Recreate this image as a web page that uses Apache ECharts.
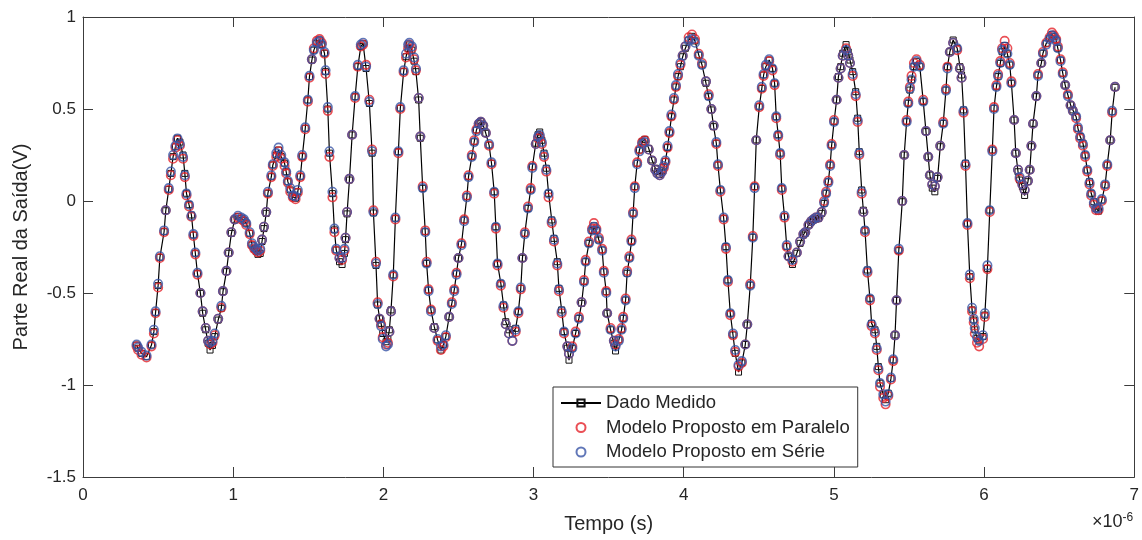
<!DOCTYPE html>
<html>
<head>
<meta charset="utf-8">
<script src="https://cdn.jsdelivr.net/npm/echarts@6/dist/echarts.min.js"></script>
<style>
html,body{margin:0;padding:0;background:#fff;}
#chart{width:1142px;height:540px;}
</style>
</head>
<body>
<div id="chart"></div>
<script>
// Tempo (unidades de 1e-6 s)
const tempo = [
0.357,0.367,0.39,0.423,0.456,0.472,0.483,0.5,0.512,0.54,
0.551,0.571,0.585,0.6,0.616,0.629,0.645,0.666,0.678,0.689,
0.706,0.722,0.735,0.748,0.762,0.782,0.797,0.817,0.833,0.846,
0.862,0.877,0.9,0.921,0.932,0.955,0.97,0.988,1.01,1.032,
1.054,1.072,1.087,1.11,1.125,1.14,1.154,1.165,1.18,1.192,
1.205,1.22,1.231,1.254,1.264,1.287,1.302,1.32,1.342,1.353,
1.364,1.38,1.397,1.415,1.43,1.447,1.46,1.48,1.497,1.508,
1.524,1.537,1.557,1.575,1.59,1.608,1.615,1.63,1.641,1.661,
1.674,1.686,1.708,1.725,1.741,1.748,1.758,1.774,1.792,1.812,
1.83,1.85,1.865,1.885,1.907,1.925,1.934,1.951,1.962,1.975,
1.985,1.996,2.018,2.03,2.04,2.051,2.066,2.08,2.1,2.113,
2.135,2.151,2.165,2.173,2.19,2.205,2.217,2.235,2.246,2.262,
2.279,2.288,2.301,2.317,2.339,2.361,2.383,2.4,2.416,2.438,
2.456,2.472,2.487,2.5,2.52,2.538,2.556,2.567,2.589,2.605,
2.62,2.635,2.649,2.665,2.682,2.704,2.72,2.738,2.749,2.76,
2.782,2.8,2.815,2.837,2.859,2.881,2.899,2.915,2.926,2.942,
2.963,2.981,2.992,3.015,3.03,3.041,3.055,3.07,3.085,3.1,
3.121,3.136,3.158,3.169,3.187,3.203,3.225,3.236,3.258,3.28,
3.302,3.32,3.336,3.347,3.369,3.39,3.402,3.418,3.435,3.457,
3.468,3.484,3.49,3.513,3.535,3.546,3.568,3.586,3.597,3.613,
3.623,3.638,3.652,3.663,3.674,3.69,3.705,3.723,3.741,3.767,
3.789,3.811,3.825,3.84,3.855,3.867,3.878,3.892,3.905,3.918,
3.935,3.948,3.962,3.978,3.993,4.011,4.033,4.055,4.075,4.1,
4.122,4.148,4.166,4.184,4.199,4.217,4.228,4.244,4.266,4.281,
4.294,4.31,4.328,4.343,4.365,4.387,4.41,4.423,4.443,4.46,
4.472,4.483,4.503,4.52,4.532,4.547,4.569,4.591,4.605,4.616,
4.629,4.642,4.653,4.671,4.686,4.698,4.724,4.753,4.775,4.797,
4.809,4.831,4.848,4.864,4.88,4.897,4.919,4.935,4.948,4.963,
4.975,4.985,5.001,5.018,5.03,5.045,5.059,5.081,5.095,5.107,
5.125,5.145,5.158,5.169,5.185,5.196,5.207,5.223,5.24,5.251,
5.273,5.285,5.296,5.307,5.329,5.344,5.362,5.38,5.395,5.407,
5.417,5.432,5.455,5.468,5.484,5.495,5.506,5.517,5.533,5.55,
5.572,5.595,5.613,5.628,5.639,5.655,5.672,5.69,5.708,5.728,
5.746,5.756,5.772,5.794,5.821,5.839,5.85,5.863,5.876,5.889,
5.905,5.92,5.931,5.938,5.953,5.967,5.993,6.005,6.022,6.038,
6.055,6.066,6.082,6.093,6.108,6.12,6.137,6.155,6.171,6.182,
6.2,6.211,6.226,6.237,6.255,6.27,6.292,6.304,6.315,6.326,
6.348,6.359,6.381,6.392,6.414,6.436,6.452,6.465,6.48,6.491,
6.509,6.524,6.54,6.558,6.576,6.591,6.613,6.625,6.64,6.658,
6.673,6.687,6.702,6.713,6.731,6.746,6.762,6.784,6.806,6.82,
6.84,6.853,6.872
];

// Dado Medido
const medido = [
-0.783,-0.8,-0.828,-0.846,-0.783,-0.71,-0.607,-0.46,-0.306,-0.167,
-0.053,0.063,0.15,0.241,0.295,0.341,0.32,0.25,0.15,0.042,
-0.02,-0.076,-0.185,-0.284,-0.393,-0.502,-0.61,-0.7,-0.773,-0.81,
-0.785,-0.737,-0.647,-0.583,-0.493,-0.384,-0.284,-0.176,-0.103,-0.085,
-0.094,-0.105,-0.121,-0.176,-0.239,-0.26,-0.275,-0.29,-0.285,-0.22,
-0.15,-0.067,0.042,0.132,0.196,0.25,0.277,0.241,0.205,0.159,
0.105,0.06,0.023,0.015,0.05,0.132,0.241,0.395,0.549,0.676,
0.766,0.82,0.857,0.875,0.85,0.803,0.703,0.5,0.26,0.04,
-0.157,-0.266,-0.33,-0.345,-0.285,-0.21,-0.07,0.114,0.359,0.567,
0.73,0.84,0.855,0.72,0.53,0.26,-0.065,-0.35,-0.565,-0.64,
-0.665,-0.72,-0.765,-0.75,-0.7,-0.592,-0.402,-0.094,0.268,0.504,
0.703,0.784,0.83,0.848,0.82,0.76,0.703,0.549,0.341,0.069,
-0.167,-0.339,-0.484,-0.592,-0.683,-0.755,-0.81,-0.78,-0.737,-0.629,
-0.556,-0.484,-0.393,-0.311,-0.235,-0.103,0.023,0.132,0.241,0.322,
0.386,0.42,0.431,0.41,0.368,0.304,0.205,0.05,-0.14,-0.339,
-0.447,-0.565,-0.656,-0.7,-0.72,-0.692,-0.6,-0.475,-0.311,-0.176,
-0.04,0.06,0.186,0.314,0.36,0.375,0.33,0.26,0.178,0.042,
-0.103,-0.203,-0.33,-0.475,-0.592,-0.71,-0.8,-0.865,-0.8,-0.72,
-0.638,-0.556,-0.438,-0.33,-0.23,-0.16,-0.135,-0.16,-0.212,-0.266,
-0.384,-0.493,-0.61,-0.7,-0.773,-0.815,-0.755,-0.7,-0.638,-0.538,
-0.393,-0.31,-0.221,-0.067,0.078,0.205,0.277,0.322,0.335,0.286,
0.223,0.178,0.16,0.145,0.165,0.185,0.215,0.29,0.37,0.458,
0.549,0.62,0.676,0.73,0.784,0.83,0.875,0.895,0.87,0.793,
0.739,0.64,0.567,0.495,0.404,0.314,0.196,0.06,-0.094,-0.248,
-0.429,-0.61,-0.728,-0.828,-0.93,-0.88,-0.78,-0.674,-0.457,-0.197,
0.078,0.332,0.512,0.612,0.685,0.73,0.766,0.721,0.64,0.458,
0.36,0.26,0.069,-0.085,-0.248,-0.303,-0.345,-0.284,-0.23,-0.185,
-0.176,-0.13,-0.115,-0.103,-0.098,-0.094,-0.067,-0.013,0.042,0.105,
0.196,0.304,0.431,0.549,0.676,0.73,0.803,0.85,0.81,0.766,
0.703,0.594,0.45,0.268,0.06,-0.05,-0.158,-0.375,-0.529,-0.665,
-0.7,-0.79,-0.9,-0.99,-1.054,-1.08,-1.045,-0.964,-0.864,-0.728,
-0.54,-0.27,-0.004,0.25,0.431,0.531,0.603,0.658,0.73,0.757,
0.73,0.54,0.377,0.24,0.141,0.07,0.05,0.123,0.295,0.422,
0.603,0.73,0.811,0.875,0.83,0.73,0.685,0.495,0.205,-0.121,
-0.411,-0.592,-0.647,-0.7,-0.746,-0.76,-0.737,-0.62,-0.366,-0.049,
0.277,0.504,0.621,0.676,0.748,0.811,0.845,0.8,0.739,0.64,
0.44,0.26,0.159,0.114,0.078,0.03,0.105,0.168,0.295,0.422,
0.567,0.685,0.748,0.803,0.857,0.884,0.905,0.895,0.875,0.83,
0.766,0.694,0.63,0.576,0.522,0.495,0.458,0.395,0.35,0.314,
0.25,0.168,0.105,0.042,-0.004,-0.04,-0.055,0.005,0.087,0.196,
0.332,0.485,0.618
];

// Modelo Proposto em Paralelo
const paralelo = [
-0.79,-0.81,-0.835,-0.85,-0.79,-0.72,-0.61,-0.47,-0.31,-0.17,
-0.05,0.06,0.14,0.23,0.29,0.33,0.3,0.23,0.13,0.03,
-0.03,-0.085,-0.19,-0.29,-0.4,-0.5,-0.6,-0.69,-0.76,-0.78,
-0.77,-0.73,-0.64,-0.58,-0.49,-0.38,-0.28,-0.17,-0.1,-0.09,
-0.1,-0.11,-0.13,-0.18,-0.24,-0.26,-0.27,-0.28,-0.27,-0.21,
-0.14,-0.06,0.04,0.13,0.19,0.24,0.27,0.23,0.19,0.15,
0.1,0.05,0.02,0.01,0.045,0.13,0.24,0.39,0.54,0.67,
0.77,0.83,0.87,0.88,0.86,0.8,0.69,0.49,0.24,0.02,
-0.17,-0.27,-0.31,-0.32,-0.27,-0.2,-0.06,0.12,0.36,0.56,
0.73,0.84,0.85,0.74,0.55,0.28,-0.05,-0.33,-0.55,-0.64,
-0.67,-0.74,-0.78,-0.77,-0.71,-0.6,-0.41,-0.1,0.26,0.5,
0.7,0.78,0.83,0.85,0.83,0.77,0.71,0.56,0.35,0.08,
-0.16,-0.33,-0.48,-0.59,-0.69,-0.76,-0.81,-0.79,-0.74,-0.63,
-0.55,-0.48,-0.39,-0.31,-0.23,-0.1,0.03,0.14,0.25,0.33,
0.39,0.42,0.43,0.41,0.37,0.3,0.2,0.04,-0.15,-0.35,
-0.46,-0.58,-0.67,-0.72,-0.76,-0.71,-0.61,-0.48,-0.31,-0.17,
-0.03,0.07,0.19,0.31,0.34,0.35,0.31,0.24,0.16,0.02,
-0.12,-0.22,-0.35,-0.49,-0.61,-0.72,-0.79,-0.83,-0.79,-0.71,
-0.63,-0.55,-0.43,-0.32,-0.22,-0.15,-0.12,-0.15,-0.2,-0.26,
-0.38,-0.49,-0.61,-0.69,-0.76,-0.78,-0.75,-0.69,-0.63,-0.53,
-0.38,-0.3,-0.21,-0.06,0.08,0.21,0.28,0.32,0.33,0.28,
0.22,0.17,0.15,0.14,0.16,0.18,0.21,0.29,0.37,0.46,
0.55,0.62,0.68,0.74,0.79,0.84,0.89,0.905,0.88,0.8,
0.75,0.65,0.58,0.5,0.41,0.31,0.19,0.05,-0.1,-0.26,
-0.44,-0.62,-0.73,-0.82,-0.9,-0.88,-0.78,-0.67,-0.45,-0.19,
0.08,0.33,0.51,0.61,0.68,0.73,0.76,0.71,0.63,0.45,
0.35,0.25,0.06,-0.09,-0.25,-0.3,-0.33,-0.28,-0.22,-0.18,
-0.17,-0.13,-0.11,-0.1,-0.09,-0.09,-0.06,0.0,0.05,0.11,
0.2,0.31,0.44,0.55,0.67,0.72,0.79,0.83,0.79,0.75,
0.68,0.57,0.43,0.25,0.04,-0.06,-0.17,-0.39,-0.54,-0.68,
-0.72,-0.81,-0.92,-1.01,-1.07,-1.105,-1.06,-0.97,-0.87,-0.73,
-0.54,-0.27,0.0,0.25,0.44,0.54,0.62,0.68,0.75,0.77,
0.74,0.55,0.38,0.24,0.14,0.09,0.08,0.13,0.3,0.43,
0.61,0.73,0.81,0.86,0.82,0.72,0.67,0.48,0.19,-0.13,
-0.42,-0.6,-0.66,-0.72,-0.77,-0.79,-0.75,-0.63,-0.37,-0.06,
0.28,0.51,0.63,0.69,0.76,0.83,0.87,0.83,0.75,0.65,
0.44,0.26,0.17,0.12,0.09,0.06,0.11,0.17,0.3,0.42,
0.57,0.69,0.75,0.81,0.86,0.89,0.915,0.9,0.88,0.84,
0.77,0.7,0.63,0.58,0.52,0.49,0.45,0.39,0.34,0.3,
0.24,0.16,0.09,0.03,-0.02,-0.05,-0.05,0.0,0.08,0.19,
0.33,0.48,0.62
];

// Modelo Proposto em Série
const serie = [
-0.78,-0.795,-0.82,-0.84,-0.78,-0.7,-0.6,-0.45,-0.3,-0.16,
-0.05,0.07,0.16,0.25,0.3,0.34,0.31,0.24,0.14,0.04,
-0.02,-0.08,-0.18,-0.28,-0.39,-0.5,-0.6,-0.69,-0.76,-0.77,
-0.76,-0.72,-0.64,-0.57,-0.49,-0.38,-0.28,-0.17,-0.1,-0.08,
-0.09,-0.1,-0.12,-0.17,-0.23,-0.25,-0.26,-0.27,-0.26,-0.21,
-0.14,-0.06,0.05,0.14,0.2,0.26,0.29,0.25,0.21,0.16,
0.11,0.07,0.03,0.025,0.06,0.14,0.25,0.4,0.55,0.68,
0.77,0.82,0.86,0.87,0.85,0.81,0.71,0.51,0.27,0.05,
-0.15,-0.26,-0.31,-0.31,-0.26,-0.2,-0.06,0.12,0.36,0.57,
0.74,0.85,0.86,0.73,0.54,0.27,-0.06,-0.34,-0.56,-0.64,
-0.68,-0.75,-0.79,-0.78,-0.71,-0.6,-0.4,-0.09,0.27,0.51,
0.71,0.8,0.85,0.86,0.84,0.78,0.72,0.56,0.35,0.07,
-0.17,-0.34,-0.49,-0.6,-0.69,-0.75,-0.79,-0.78,-0.73,-0.63,
-0.56,-0.49,-0.4,-0.31,-0.24,-0.11,0.02,0.13,0.24,0.32,
0.38,0.42,0.43,0.41,0.37,0.31,0.21,0.05,-0.14,-0.34,
-0.45,-0.57,-0.67,-0.72,-0.76,-0.7,-0.6,-0.47,-0.31,-0.18,
-0.04,0.06,0.18,0.31,0.35,0.36,0.32,0.25,0.17,0.04,
-0.11,-0.21,-0.34,-0.48,-0.6,-0.71,-0.79,-0.83,-0.8,-0.72,
-0.64,-0.55,-0.44,-0.33,-0.23,-0.16,-0.14,-0.16,-0.21,-0.27,
-0.39,-0.5,-0.61,-0.7,-0.76,-0.79,-0.76,-0.7,-0.64,-0.54,
-0.39,-0.31,-0.22,-0.07,0.07,0.2,0.27,0.31,0.32,0.28,
0.22,0.17,0.15,0.14,0.16,0.19,0.22,0.3,0.38,0.47,
0.56,0.63,0.69,0.75,0.79,0.84,0.87,0.88,0.86,0.79,
0.74,0.65,0.57,0.5,0.41,0.32,0.2,0.06,-0.09,-0.25,
-0.43,-0.61,-0.72,-0.81,-0.89,-0.87,-0.78,-0.67,-0.46,-0.2,
0.07,0.33,0.52,0.62,0.69,0.74,0.77,0.72,0.64,0.46,
0.36,0.26,0.07,-0.08,-0.24,-0.3,-0.32,-0.28,-0.22,-0.18,
-0.17,-0.13,-0.11,-0.1,-0.09,-0.09,-0.06,-0.01,0.04,0.1,
0.19,0.3,0.43,0.55,0.67,0.72,0.79,0.82,0.79,0.75,
0.69,0.58,0.44,0.26,0.05,-0.06,-0.16,-0.38,-0.53,-0.67,
-0.71,-0.8,-0.91,-0.99,-1.05,-1.09,-1.05,-0.96,-0.86,-0.73,
-0.54,-0.26,0.0,0.25,0.43,0.53,0.61,0.66,0.73,0.76,
0.73,0.54,0.38,0.24,0.14,0.09,0.08,0.13,0.3,0.42,
0.6,0.72,0.81,0.86,0.83,0.72,0.67,0.49,0.2,-0.12,
-0.4,-0.58,-0.64,-0.69,-0.74,-0.76,-0.73,-0.61,-0.35,-0.05,
0.27,0.5,0.62,0.68,0.75,0.82,0.84,0.8,0.74,0.64,
0.44,0.26,0.17,0.13,0.09,0.06,0.11,0.17,0.3,0.42,
0.57,0.68,0.75,0.8,0.85,0.88,0.9,0.89,0.87,0.83,
0.76,0.69,0.63,0.57,0.52,0.49,0.46,0.4,0.35,0.31,
0.25,0.17,0.1,0.04,-0.01,-0.04,-0.04,0.01,0.09,0.2,
0.33,0.49,0.62
];

const nomesSeries = ['Dado Medido', 'Modelo Proposto em Paralelo', 'Modelo Proposto em Série'];
const eixoX = { min: 0, max: 7, passo: 1, titulo: 'Tempo (s)', escala: '×10', expoente: '-6' };
const eixoY = { min: -1.5, max: 1, passo: 0.5, titulo: 'Parte Real da Saída(V)' };

const FONT = "'Liberation Sans', Arial, Helvetica, sans-serif";
const TXT = '#262626';
const AX = '#3c3c3c';

function pares(ys) { return tempo.map((t, i) => [t, ys[i]]); }

const chart = echarts.init(document.getElementById('chart'), null, { renderer: 'canvas' });

const axisCommonX = {
  type: 'value', min: eixoX.min, max: eixoX.max, interval: eixoX.passo,
  axisLine: { show: true, onZero: false, lineStyle: { color: AX, width: 1 } },
  axisTick: { show: true, inside: true, length: 10, lineStyle: { color: AX, width: 1 } },
  splitLine: { show: false }
};
const axisCommonY = {
  type: 'value', min: eixoY.min, max: eixoY.max, interval: eixoY.passo,
  axisLine: { show: true, onZero: false, lineStyle: { color: AX, width: 1 } },
  axisTick: { show: true, inside: true, length: 10, lineStyle: { color: AX, width: 1 } },
  splitLine: { show: false }
};

chart.setOption({
  animation: false,
  backgroundColor: '#fff',
  textStyle: { fontFamily: FONT },
  grid: { left: 83, right: 5, top: 17, bottom: 63, containLabel: false },
  xAxis: [
    Object.assign({}, axisCommonX, {
      position: 'bottom',
      axisLabel: { show: true, fontSize: 17, color: TXT, margin: 10, fontFamily: FONT },
      name: eixoX.titulo, nameLocation: 'middle', nameGap: 37,
      nameTextStyle: { fontSize: 20, color: TXT, fontFamily: FONT }
    }),
    Object.assign({}, axisCommonX, { position: 'top', axisLabel: { show: false } })
  ],
  yAxis: [
    Object.assign({}, axisCommonY, {
      position: 'left',
      axisLabel: { show: true, fontSize: 17, color: TXT, margin: 7, fontFamily: FONT },
      name: eixoY.titulo, nameLocation: 'middle', nameGap: 52,
      nameTextStyle: { fontSize: 20, color: TXT, fontFamily: FONT }
    }),
    Object.assign({}, axisCommonY, { position: 'right', axisLabel: { show: false } })
  ],
  legend: {
    orient: 'vertical', left: 553, top: 387,
    padding: [6, 8, 5, 7], itemGap: 4.5,
    itemWidth: 40, itemHeight: 9,
    backgroundColor: '#fff', borderColor: '#333', borderWidth: 1, borderRadius: 0,
    textStyle: { fontSize: 18.5, lineHeight: 20, color: TXT, fontFamily: FONT },
    data: nomesSeries
  },
  graphic: [{
    type: 'text', left: 1092, top: 512,
    style: {
      text: '{a|' + eixoX.escala + '}{b|' + eixoX.expoente + '}',
      rich: {
        a: { fontSize: 18, fill: TXT, fontFamily: FONT },
        b: { fontSize: 12, fill: TXT, fontFamily: FONT, verticalAlign: 'top', padding: [0, 0, 9, 0] }
      }
    }
  }],
  series: [
    {
      name: nomesSeries[0], type: 'line', data: pares(medido),
      symbol: 'rect', symbolSize: 6, showAllSymbol: true,
      lineStyle: { color: '#000', width: 1.2 },
      itemStyle: { color: 'rgba(255,255,255,0)', borderColor: '#111', borderWidth: 1 },
      emphasis: { disabled: true }, z: 2
    },
    {
      name: nomesSeries[1], type: 'scatter', data: pares(paralelo),
      symbol: 'circle', symbolSize: 8.5,
      itemStyle: { color: 'rgba(255,255,255,0)', borderColor: '#e5232b', borderWidth: 1.6 },
      emphasis: { disabled: true }, z: 3
    },
    {
      name: nomesSeries[2], type: 'scatter', data: pares(serie),
      symbol: 'circle', symbolSize: 8.5,
      itemStyle: { color: 'rgba(255,255,255,0)', borderColor: '#3a55a6', borderWidth: 1.6 },
      emphasis: { disabled: true }, z: 4
    }
  ]
});
</script>
</body>
</html>
